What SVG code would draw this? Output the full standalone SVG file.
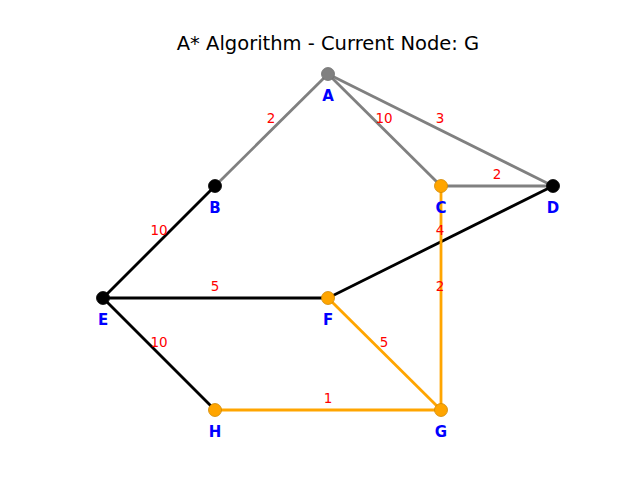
<svg xmlns="http://www.w3.org/2000/svg" width="640" height="480" viewBox="0 0 640 480">
<style>
.e{stroke-width:2.8;fill:none}
.g{stroke:#808080}.k{stroke:#000}.o{stroke:#ffa500}
.n{stroke-width:0.8}
.ng{fill:#808080;stroke:#707070}.nk{fill:#000;stroke:#000}.no{fill:#ffa500;stroke:#d08800}
.nl{font-family:"DejaVu Sans",sans-serif;font-weight:bold;font-size:15px;fill:#0000ff;text-anchor:middle}
.el{font-family:"DejaVu Sans",sans-serif;font-size:13.5px;fill:#ff0000;text-anchor:middle}
.t{font-family:"DejaVu Sans",sans-serif;font-size:19.5px;fill:#000;text-anchor:middle}
</style>
<rect width="640" height="480" fill="#fff"/>
<text class="t" x="328" y="50">A* Algorithm - Current Node: G</text>
<g id="edges">
<line class="e g" x1="328" y1="74" x2="215" y2="186"/>
<line class="e g" x1="328" y1="74" x2="441" y2="186"/>
<line class="e g" x1="328" y1="74" x2="553" y2="186"/>
<line class="e g" x1="441" y1="186" x2="553" y2="186"/>
<line class="e k" x1="215" y1="186" x2="103" y2="298"/>
<line class="e k" x1="103" y1="298" x2="328" y2="298"/>
<line class="e k" x1="103" y1="298" x2="215" y2="410"/>
<line class="e k" x1="328" y1="298" x2="553" y2="186"/>
<line class="e o" x1="441" y1="186" x2="441" y2="410"/>
<line class="e o" x1="328" y1="298" x2="441" y2="410"/>
<line class="e o" x1="215" y1="410" x2="441" y2="410"/>
<text class="el" x="271" y="123">2</text>
<text class="el" x="384" y="123">10</text>
<text class="el" x="440" y="123">3</text>
<text class="el" x="497" y="179">2</text>
<text class="el" x="159" y="235">10</text>
<text class="el" x="215" y="291">5</text>
<text class="el" x="159" y="347">10</text>
<text class="el" x="440" y="235">4</text>
<text class="el" x="440" y="291">2</text>
<text class="el" x="384" y="347">5</text>
<text class="el" x="328" y="403">1</text>
</g>
<g id="node-A"><circle class="n ng" cx="328" cy="74" r="6.5"/><text class="nl" x="328" y="101">A</text></g>
<g id="node-B"><circle class="n nk" cx="215" cy="186" r="6.5"/><text class="nl" x="215" y="213">B</text></g>
<g id="node-C"><circle class="n no" cx="441" cy="186" r="6.5"/><text class="nl" x="441" y="213">C</text></g>
<g id="node-D"><circle class="n nk" cx="553" cy="186" r="6.5"/><text class="nl" x="553" y="213">D</text></g>
<g id="node-E"><circle class="n nk" cx="103" cy="298" r="6.5"/><text class="nl" x="103" y="325">E</text></g>
<g id="node-F"><circle class="n no" cx="328" cy="298" r="6.5"/><text class="nl" x="328" y="325">F</text></g>
<g id="node-G"><circle class="n no" cx="441" cy="410" r="6.5"/><text class="nl" x="441" y="437">G</text></g>
<g id="node-H"><circle class="n no" cx="215" cy="410" r="6.5"/><text class="nl" x="215" y="437">H</text></g>
</svg>
